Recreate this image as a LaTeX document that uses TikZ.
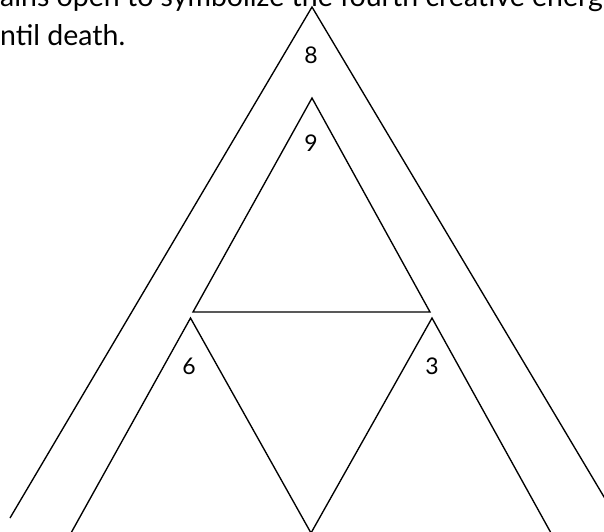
\documentclass[tikz,border=0pt]{standalone}
\usepackage{fontspec}
\setmainfont{Lato}
\begin{document}
\begin{tikzpicture}[x=1pt,y=-1pt,
  edge/.style={line width=1.35pt, black},
  numlabel/.style={inner sep=0pt, font=\fontsize{23}{27}\selectfont},
  textline/.style={anchor=base west, inner sep=0pt, font=\fontsize{28.5}{33}\selectfont}]
\useasboundingbox (0,0) rectangle (604,531);
\clip (0,0) rectangle (604,531);
% text lines (top line cut off by page edge, as in the reference)
\node[textline] (t1) at (0,6) {ains open to symbolize the fourth creative energ};
\node[textline] (t2) at (0,45) {ntil death.};
% vertices
\coordinate (oA) at (312,7);
\coordinate (oL) at (10,518);
\coordinate (oR) at (613,512);
\coordinate (nA) at (312,98);
\coordinate (nL) at (193,312);
\coordinate (nR) at (430,312);
\coordinate (sA) at (190.5,318);
\coordinate (sL) at (71,533);
\coordinate (vB) at (311,533);
\coordinate (tA) at (432,318);
\coordinate (tR) at (551,533);
% shapes
\draw[edge] (oL) -- (oA) -- (oR);
\draw[edge] (nA) -- (nL) -- (nR) -- cycle;
\draw[edge] (sL) -- (sA) -- (vB);
\draw[edge] (vB) -- (tA) -- (tR);
% labels
\node[numlabel] (l8) at (311,55) {8};
\node[numlabel] (l9) at (311,143) {9};
\node[numlabel] (l6) at (189,366) {6};
\node[numlabel] (l3) at (432,366) {3};
\end{tikzpicture}
\end{document}
